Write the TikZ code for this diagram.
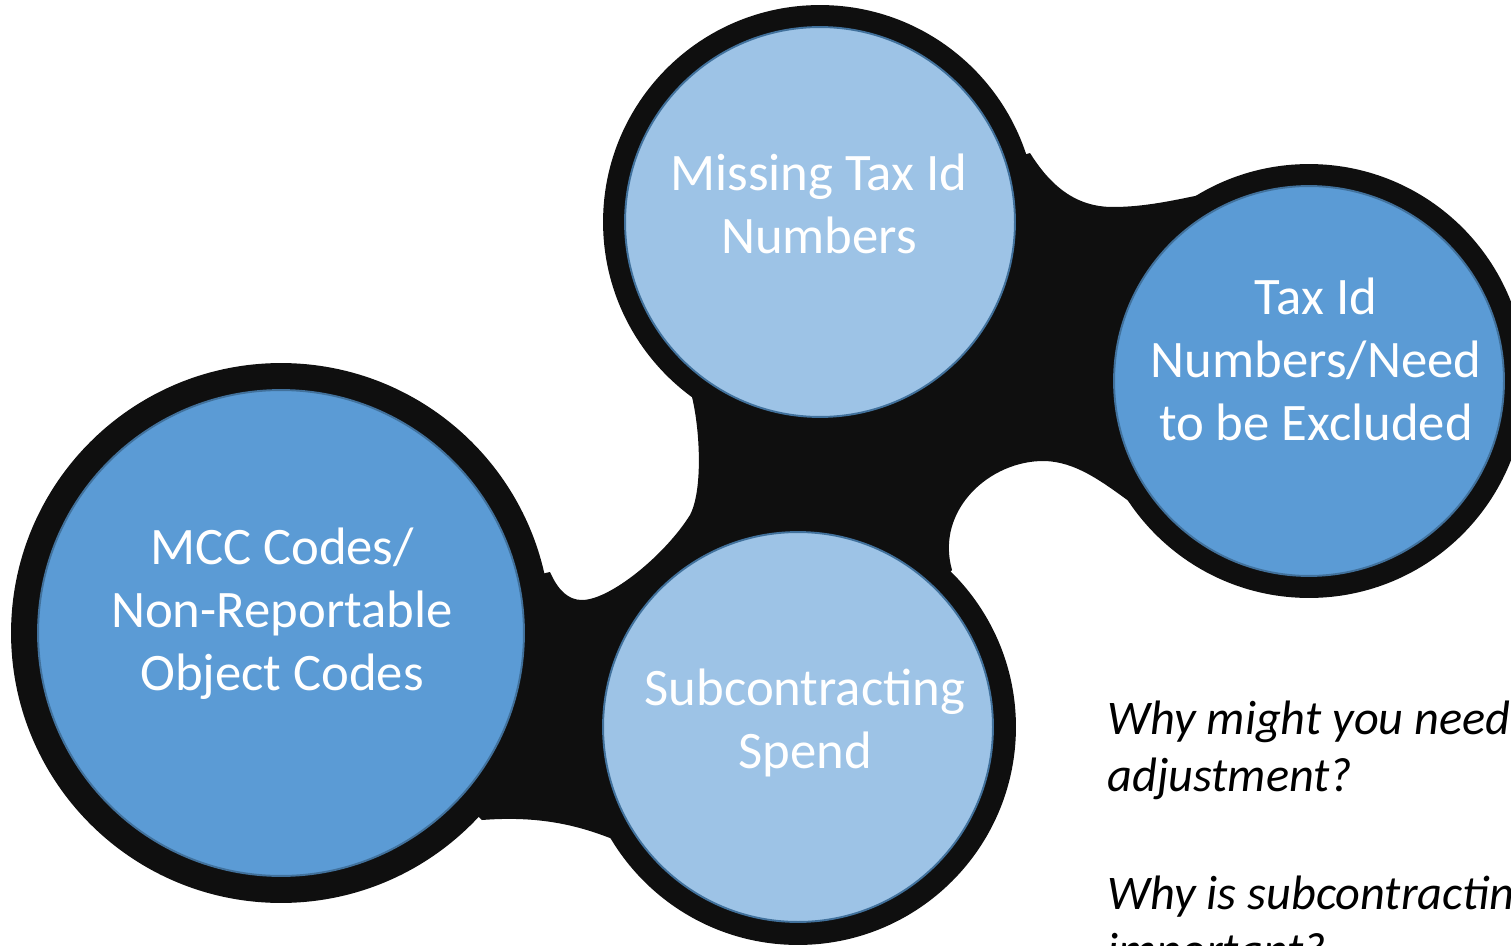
\documentclass[tikz,border=0pt]{standalone}
\usepackage{fontspec}
\setmainfont{Carlito}
\definecolor{blk}{HTML}{0F0F0F}
\definecolor{darkb}{HTML}{5B9BD5}
\definecolor{lightb}{HTML}{9DC3E6}
\definecolor{bord}{HTML}{41719C}
\tikzset{
  ring/.style={circle, fill=blk, inner sep=0pt, minimum size=#1},
  bubble/.style={circle, draw=bord, line width=1.1pt, inner sep=0pt, minimum size=#1},
  label/.style={text=white, align=center, anchor=base, inner sep=0pt,
    font=\fontsize{30}{35.7}\selectfont},
  question/.style={text=black, align=left, anchor=base west, inner sep=0pt,
    font=\fontsize{27.5}{32.4}\selectfont\itshape}
}
\begin{document}
\begin{tikzpicture}[x=0.02cm,y=-0.02cm]
\useasboundingbox (0,0) rectangle (1511,946);
\clip (0,0) rectangle (1511,946);
% black outer rings
\node[ring=10.8cm] (r1) at (281,633) {};
\node[ring=8.68cm] (r2) at (820,222) {};
\node[ring=8.68cm] (r3) at (1309,381) {};
\node[ring=8.72cm] (r4) at (798,727) {};
% black connecting body
\fill[blk] (r1.center) -- (550,572)
  .. controls (558,590) and (568,600) .. (582,600)
  .. controls (610,600) and (665,555) .. (690,515)
  .. controls (703,490) and (700,430) .. (692,397)
  -- (r2.center) -- (1030,153)
  .. controls (1050,185) and (1075,207) .. (1113,207)
  .. controls (1145,207) and (1175,200) .. (1200,195)
  -- (r3.center) -- (1130,502)
  .. controls (1100,480) and (1075,462) .. (1045,461)
  .. controls (990,460) and (935,510) .. (952,570)
  -- (r4.center) -- (615,840)
  .. controls (585,828) and (545,815) .. (482,820)
  -- cycle;
% coloured circles
\node[bubble=9.72cm, fill=darkb] (c1) at (281,633) {};
\node[bubble=7.8cm, fill=lightb] (c2) at (820,222) {};
\node[bubble=7.8cm, fill=darkb] (c3) at (1309,381) {};
\node[bubble=7.8cm, fill=lightb] (c4) at (798,727) {};
% texts (base anchor = baseline of last line)
\node[label] (t1) at (282,690) {MCC Codes/\\Non-Reportable\\Object Codes};
\node[label] (t2) at (819,253) {Missing Tax Id\\Numbers};
\node[label] (t3) at (1316,440) {Tax Id\\Numbers/Need\\to be Excluded};
\node[label] (t4) at (805,768) {Subcontracting\\Spend};
\node[question] (q) at (1107,966) {Why might you need\\adjustment?\\[34.5pt]Why is subcontracting\\important?};
\end{tikzpicture}
\end{document}
